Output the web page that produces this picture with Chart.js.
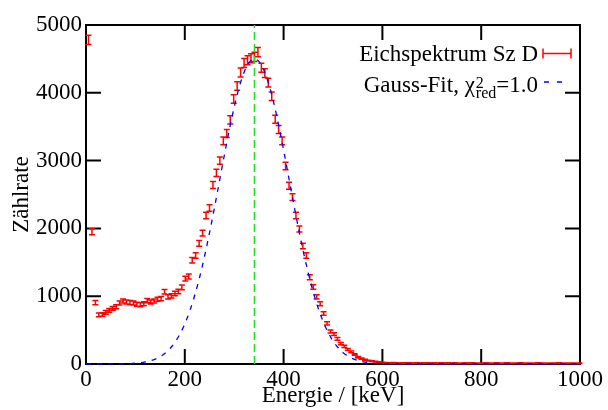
<!DOCTYPE html>
<html>
<head>
<meta charset="utf-8">
<script src="https://cdn.jsdelivr.net/npm/chart.js@4.4.1/dist/chart.umd.min.js"></script>
<style>
  body { margin: 0; background: #fff; }
  #c { display: block; }
</style>
</head>
<body>
<canvas id="c" width="608" height="410"></canvas>
<script>
// measured spectrum (channel energy in keV, counts)
var energy = [
  5, 12, 19, 26, 33, 40, 47, 54, 61, 68,
  75, 82, 89, 96, 103, 110, 117, 124, 131, 138,
  145, 152, 159, 166, 173, 180, 187, 194, 201, 208,
  215, 222, 229, 236, 243, 250, 257, 264, 271, 278,
  285, 292, 299, 306, 313, 320, 327, 334, 341, 348,
  355, 362, 369, 376, 383, 390, 397, 404, 411, 418,
  425, 432, 439, 446, 453, 460, 467, 474, 481, 488,
  495, 502, 509, 516, 523, 530, 537, 544, 551, 558,
  565, 572, 579, 586, 593, 600, 607, 614, 621, 628,
  635, 642, 649, 656, 663, 670, 677, 684, 691, 698,
  705, 712, 719, 726, 733, 740, 747, 754, 761, 768,
  775, 782, 789, 796, 803, 810, 817, 824, 831, 838,
  845, 852, 859, 866, 873, 880, 887, 894, 901, 908,
  915, 922, 929, 936, 943, 950, 957, 964, 971, 978,
  985, 992, 999
];
var counts = [
  4780, 1950, 905, 725, 730, 760, 790, 820, 845, 900,
  930, 915, 905, 900, 880, 875, 890, 935, 915, 930,
  955, 965, 1065, 990, 1005, 1040, 1070, 1130, 1260, 1290,
  1530, 1600, 1780, 1930, 2190, 2300, 2640, 2820, 3000, 3290,
  3400, 3600, 3910, 4100, 4300, 4440, 4480, 4510, 4530, 4600,
  4370, 4290, 4150, 3950, 3610, 3460, 3290, 2920, 2630, 2460,
  2190, 1990, 1740, 1600, 1280, 1135, 990, 890, 745, 600,
  480, 440, 370, 300, 260, 215, 180, 140, 100, 80,
  63, 50, 42, 35, 28, 22, 18, 15, 17, 14,
  12, 16, 13, 15, 11, 14, 12, 13, 15, 12,
  14, 11, 13, 12, 14, 10, 13, 12, 11, 14,
  12, 13, 10, 12, 11, 13, 12, 10, 14, 11,
  12, 13, 10, 12, 11, 13, 12, 10, 11, 12,
  13, 11, 12, 10, 12, 11, 13, 12, 11, 10,
  12, 11, 12
];
// gauss fit curve
var fitEnergy = [0, 50, 100, 120, 140, 150, 160, 170, 180, 190, 200, 210, 220, 230, 240, 250,
  260, 270, 280, 290, 300, 310, 320, 330, 341, 350, 360, 370, 380, 390, 400, 410, 420, 430,
  440, 450, 460, 470, 480, 490, 500, 510, 520, 530, 540, 550, 560, 580, 600, 650, 1000];
var fitCounts = [0, 1, 12, 31, 73, 109, 159, 228, 320, 439, 592, 781, 1010, 1280, 1589, 1933,
  2304, 2691, 3078, 3451, 3791, 4080, 4302, 4445, 4500, 4463, 4337, 4130, 3853, 3522, 3155, 2768, 2381, 2005,
  1655, 1339, 1061, 824, 627, 467, 341, 244, 171, 118, 79, 52, 34, 13, 5, 0, 0];
var peakEnergy = 341;

var xTicks = [0, 200, 400, 600, 800, 1000];
var yTicks = [0, 1000, 2000, 3000, 4000, 5000];

var FONT = 'Liberation Serif';
Chart.defaults.font.family = FONT;
Chart.defaults.font.size = 23;
Chart.defaults.color = '#000';
var axisFont = { family: FONT, size: 23 };

var tickLen = 15;

var gnuplotLook = {
  id: 'gnuplotLook',
  beforeDatasetsDraw: function(chart) {
    var ctx = chart.ctx, a = chart.chartArea;
    var xs = chart.scales.x, ys = chart.scales.y;
    ctx.save();
    ctx.strokeStyle = '#000';
    ctx.lineWidth = 2;
    ctx.strokeRect(a.left, a.top, a.right - a.left, a.bottom - a.top);
    ctx.beginPath();
    xTicks.forEach(function(v) {
      var px = xs.getPixelForValue(v);
      ctx.moveTo(px, a.bottom); ctx.lineTo(px, a.bottom - tickLen);
      ctx.moveTo(px, a.top); ctx.lineTo(px, a.top + tickLen);
    });
    yTicks.forEach(function(v) {
      var py = ys.getPixelForValue(v);
      ctx.moveTo(a.left, py); ctx.lineTo(a.left + tickLen, py);
      ctx.moveTo(a.right, py); ctx.lineTo(a.right - tickLen, py);
    });
    ctx.stroke();

    // error bars (poisson error sqrt(N))
    ctx.strokeStyle = '#ff0000';
    ctx.lineWidth = 1.5;
    ctx.beginPath();
    for (var i = 0; i < energy.length; i++) {
      var err = Math.sqrt(counts[i]);
      var px = xs.getPixelForValue(energy[i]);
      var y1 = ys.getPixelForValue(counts[i] - err);
      var y2 = ys.getPixelForValue(counts[i] + err);
      ctx.moveTo(px, y1); ctx.lineTo(px, y2);
      ctx.moveTo(px - 3, y1); ctx.lineTo(px + 3, y1);
      ctx.moveTo(px - 3, y2); ctx.lineTo(px + 3, y2);
    }
    ctx.stroke();
    ctx.restore();
  },
  afterDatasetsDraw: function(chart) {
    var ctx = chart.ctx, a = chart.chartArea;
    var xs = chart.scales.x;
    ctx.save();
    // peak marker
    var gx = xs.getPixelForValue(peakEnergy);
    ctx.strokeStyle = '#22dd22';
    ctx.lineWidth = 1.5;
    ctx.setLineDash([8, 4]);
    ctx.beginPath();
    ctx.moveTo(gx, a.bottom); ctx.lineTo(gx, a.top);
    ctx.stroke();
    ctx.setLineDash([]);

    // key
    var rx = 538, sx0 = 543, sx1 = 571;
    ctx.fillStyle = '#000';
    ctx.textBaseline = 'alphabetic';
    ctx.textAlign = 'right';
    ctx.font = '23px "' + FONT + '"';
    ctx.fillText('Eichspektrum Sz D', rx, 61);
    ctx.strokeStyle = '#ff0000';
    ctx.lineWidth = 1.5;
    ctx.beginPath();
    ctx.moveTo(sx0, 53.5); ctx.lineTo(sx1, 53.5);
    ctx.moveTo(sx0, 48.5); ctx.lineTo(sx0, 58.5);
    ctx.moveTo(sx1, 48.5); ctx.lineTo(sx1, 58.5);
    ctx.stroke();

    var tail = '=1.0';
    var wTail = ctx.measureText(tail).width;
    ctx.fillText(tail, rx, 92);
    ctx.font = '16px "' + FONT + '"';
    var wSub = Math.max(ctx.measureText('red').width, ctx.measureText('2').width);
    var xs2 = rx - wTail - wSub;
    ctx.textAlign = 'left';
    ctx.fillText('2', xs2, 88);
    ctx.fillText('red', xs2, 98);
    ctx.font = '23px "' + FONT + '"';
    ctx.textAlign = 'right';
    ctx.fillText('Gauss-Fit, \u03C7', xs2 - 1, 92);
    ctx.strokeStyle = '#0000ff';
    ctx.lineWidth = 1.3;
    ctx.setLineDash([5, 8]);
    ctx.beginPath();
    ctx.moveTo(sx0 + 1, 82); ctx.lineTo(sx0 + 19, 82);
    ctx.stroke();
    ctx.restore();
  }
};

var dataPts = energy.map(function(e, i) { return { x: e, y: counts[i] }; });
var fitPts = fitEnergy.map(function(e, i) { return { x: e, y: fitCounts[i] }; });

function plainLabel(v) { return String(v); }

new Chart(document.getElementById('c'), {
  type: 'scatter',
  data: {
    datasets: [
      {
        label: 'Eichspektrum Sz D',
        data: dataPts,
        pointRadius: 0,
        showLine: false
      },
      {
        label: 'Gauss-Fit',
        data: fitPts,
        showLine: true,
        pointRadius: 0,
        borderColor: '#0000ff',
        borderWidth: 1.3,
        borderDash: [5, 6],
        tension: 0.4,
        cubicInterpolationMode: 'monotone',
        clip: false
      }
    ]
  },
  plugins: [gnuplotLook],
  options: {
    responsive: false,
    animation: false,
    layout: { padding: { top: 25, right: 28, bottom: 0, left: 0 } },
    plugins: { legend: { display: false }, tooltip: { enabled: false } },
    scales: {
      x: {
        type: 'linear', min: 0, max: 1000,
        afterFit: function(s) { s.height = 46; },
        afterBuildTicks: function(s) { s.ticks = xTicks.map(function(v) { return { value: v }; }); },
        grid: { display: false, drawTicks: false },
        border: { display: false },
        ticks: { padding: 2, maxRotation: 0, font: axisFont, color: '#000', callback: plainLabel },
        title: { display: true, text: 'Energie / [keV]', padding: { top: 0, bottom: 0 }, font: axisFont, color: '#000' }
      },
      y: {
        min: 0, max: 5000,
        afterFit: function(s) { s.width = 86; },
        afterBuildTicks: function(s) { s.ticks = yTicks.map(function(v) { return { value: v }; }); },
        grid: { display: false, drawTicks: false },
        border: { display: false },
        ticks: { padding: 4, font: axisFont, color: '#000', callback: plainLabel },
        title: { display: true, text: 'Zählrate', padding: { top: 8, bottom: 0 }, font: axisFont, color: '#000' }
      }
    }
  }
});
</script>
</body>
</html>
